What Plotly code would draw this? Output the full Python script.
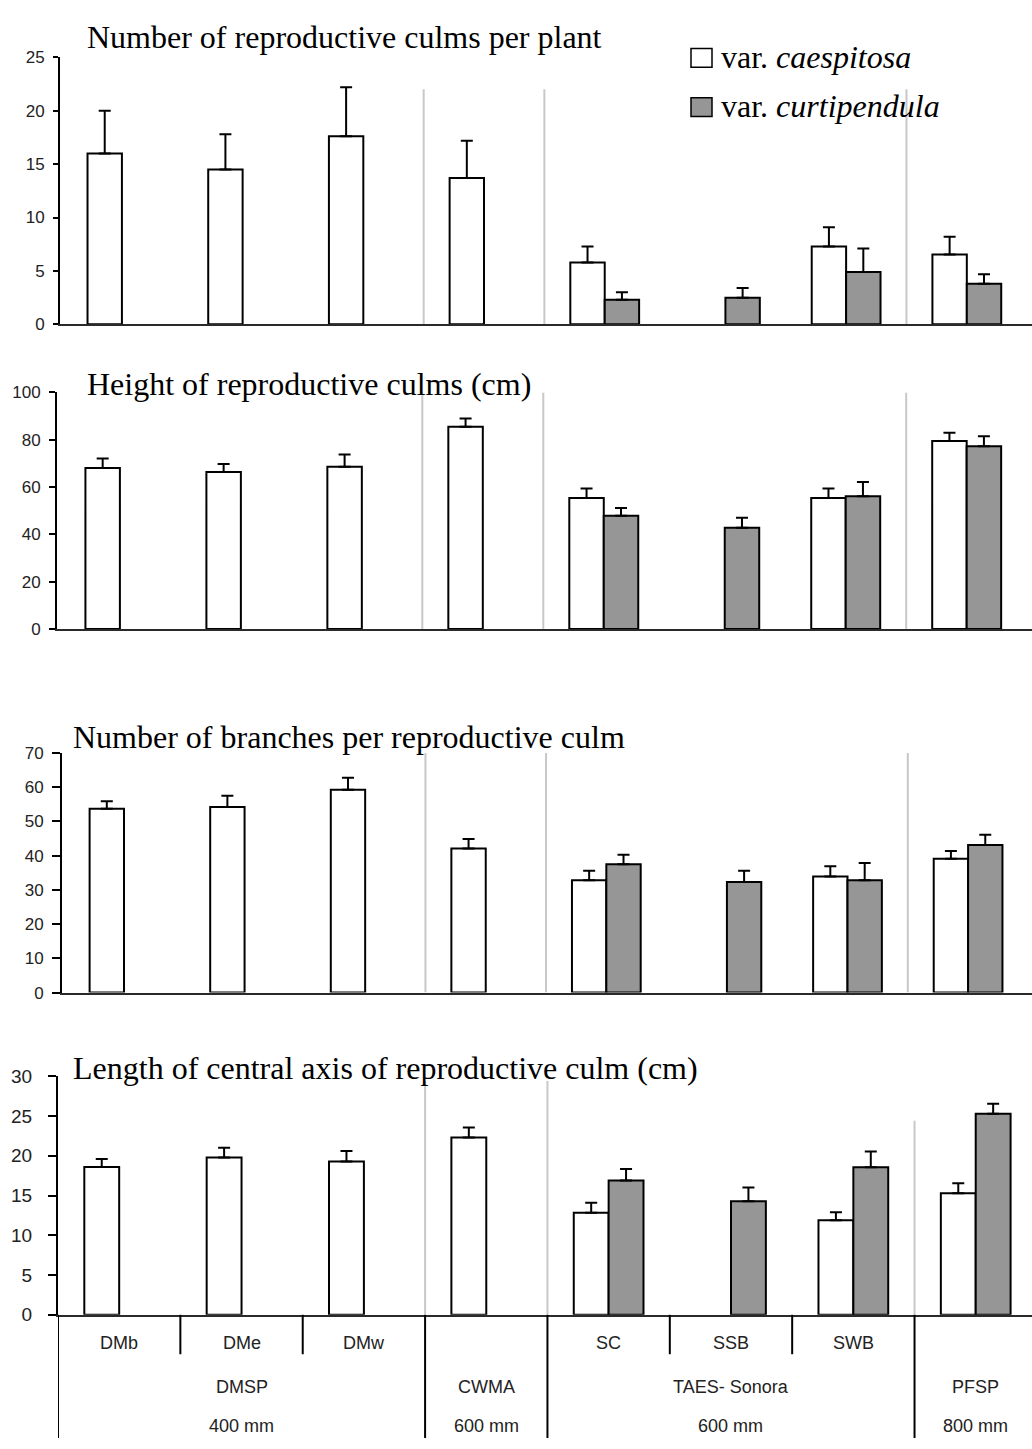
import plotly.graph_objects as go

# ---------------- data ----------------
sites = ["DMb", "DMe", "DMw", "CWMA", "SC", "SSB", "SWB", "PFSP"]
sub_labels = ["DMb", "DMe", "DMw", "", "SC", "SSB", "SWB", ""]
groups = ["DMSP", "CWMA", "TAES- Sonora", "PFSP"]
group_pos = [1, 3, 5, 7]
rain = ["400 mm", "600 mm", "600 mm", "800 mm"]
series_names = ["var. caespitosa", "var. curtipendula"]

culms_caes = [16.0, 14.5, 17.6, 13.7, 5.8, None, 7.3, 6.55]
culms_caes_err = [4.0, 3.3, 4.6, 3.5, 1.5, None, 1.8, 1.65]
culms_curt = [None, None, None, None, 2.3, 2.5, 4.9, 3.8]
culms_curt_err = [None, None, None, None, 0.7, 0.9, 2.2, 0.9]

height_caes = [68.0, 66.3, 68.6, 85.5, 55.3, None, 55.3, 79.4]
height_caes_err = [4.0, 3.4, 5.1, 3.5, 4.1, None, 4.1, 3.5]
height_curt = [None, None, None, None, 47.8, 42.8, 56.1, 77.2]
height_curt_err = [None, None, None, None, 3.3, 4.2, 6.0, 4.2]

branch_caes = [53.7, 54.2, 59.3, 42.1, 32.8, None, 33.9, 39.1]
branch_caes_err = [2.2, 3.3, 3.5, 2.8, 2.8, None, 3.0, 2.3]
branch_curt = [None, None, None, None, 37.5, 32.3, 32.8, 43.1]
branch_curt_err = [None, None, None, None, 2.8, 3.3, 5.1, 3.0]

length_caes = [18.6, 19.8, 19.3, 22.3, 12.85, None, 11.9, 15.3]
length_caes_err = [1.0, 1.2, 1.3, 1.25, 1.25, None, 1.0, 1.25]
length_curt = [None, None, None, None, 16.9, 14.3, 18.55, 25.3]
length_curt_err = [None, None, None, None, 1.45, 1.7, 2.0, 1.25]

titles = [
    "Number of reproductive culms per plant",
    "Height of reproductive culms (cm)",
    "Number of branches per reproductive culm",
    "Length of central axis of reproductive culm (cm)",
]

# ---------------- layout geometry (pixels) ----------------
W, H = 1032, 1449
def px(x):
    return x / W
def py(y):
    return 1 - y / H

panels = [
    dict(caes=culms_caes, caes_err=culms_caes_err, curt=culms_curt, curt_err=culms_curt_err,
         ymax=25, dtick=5, top=48, bottom=319, axis_x=60, xr=[-0.513, 7.54],
         title_x=85, title_y=27, tfont=17, tick_len=5, standoff=5, sep_top=[22, 22, 22]),
    dict(caes=height_caes, caes_err=height_caes_err, curt=height_curt, curt_err=height_curt_err,
         ymax=100, dtick=20, top=388, bottom=628, axis_x=57, xr=[-0.52, 7.54],
         title_x=85, title_y=380, tfont=17, tick_len=6, standoff=5, sep_top=[100, 100, 100]),
    dict(caes=branch_caes, caes_err=branch_caes_err, curt=branch_curt, curt_err=branch_curt_err,
         ymax=70, dtick=10, top=754, bottom=997, axis_x=62, xr=[-0.514, 7.53],
         title_x=71, title_y=738, tfont=17, tick_len=8, standoff=5, sep_top=[70, 70, 70]),
    dict(caes=length_caes, caes_err=length_caes_err, curt=length_curt, curt_err=length_curt_err,
         ymax=30, dtick=5, top=1082, bottom=1324, axis_x=58, xr=[-0.5, 7.46],
         title_x=71, title_y=1074, tfont=19, tick_len=8, standoff=12, sep_top=[29.4, 29.4, 24.4]),
]

WHITE = "#ffffff"
GRAY = "#969696"
SERIF = "Liberation Serif, Times New Roman, serif"
SANS = "Liberation Sans, Arial, sans-serif"

fig = go.Figure()
shapes = []
annotations = []

for i, p in enumerate(panels, start=1):
    xa = "x" if i == 1 else f"x{i}"
    ya = "y" if i == 1 else f"y{i}"
    for vals, errs, color, name in [
        (p["caes"], p["caes_err"], WHITE, series_names[0]),
        (p["curt"], p["curt_err"], GRAY, series_names[1]),
    ]:
        fig.add_trace(go.Bar(
            x=sites, y=vals, name=name, xaxis=xa, yaxis=ya,
            marker=dict(color=color, line=dict(color="black", width=2)),
            error_y=dict(type="data", array=errs, arrayminus=[0] * len(sites),
                         symmetric=False, color="black", thickness=2, width=6),
            showlegend=False,
        ))
    kx = "xaxis" if i == 1 else f"xaxis{i}"
    ky = "yaxis" if i == 1 else f"yaxis{i}"
    fig.layout[kx] = dict(
        domain=[px(p["axis_x"]), 1], range=p["xr"], anchor=ya, type="category",
        showline=True, linecolor="#2a2a2a", linewidth=2, ticks="", showticklabels=False,
        showgrid=False, zeroline=False,
    )
    fig.layout[ky] = dict(
        domain=[py(p["bottom"]), py(p["top"])], range=[0, p["ymax"]], anchor=xa,
        dtick=p["dtick"], tick0=0, ticks="outside", ticklen=p["tick_len"], tickwidth=1.5,
        tickcolor="black", showline=True, linecolor="black", linewidth=2,
        showgrid=False, zeroline=False,
        tickfont=dict(family=SANS, size=p["tfont"], color="#222"),
        ticklabelstandoff=p["standoff"],
    )
    # light gray separators between site groups
    for xb, yt in zip([2.5, 3.5, 6.5], p["sep_top"]):
        shapes.append(dict(type="line", xref=xa, yref=ya, x0=xb, x1=xb, y0=0, y1=yt,
                           line=dict(color="#c8c8c8", width=2), layer="below"))
    annotations.append(dict(text=titles[i - 1], xref="paper", yref="paper",
                            x=px(p["title_x"]), y=py(p["title_y"]), xanchor="left",
                            yanchor="middle", showarrow=False,
                            font=dict(family=SERIF, size=32, color="black")))

# ---------------- category table under the last panel ----------------
row_top, row_sub, row_bottom = 1324, 1364, 1449
shapes.append(dict(type="line", xref="x4", yref="paper", x0=-0.5, x1=-0.5,
                   y0=py(row_bottom), y1=py(row_top), line=dict(color="black", width=2)))
for xb in [0.5, 1.5, 4.5, 5.5]:
    shapes.append(dict(type="line", xref="x4", yref="paper", x0=xb, x1=xb,
                       y0=py(row_sub), y1=py(row_top), line=dict(color="black", width=2)))
for xb in [2.5, 3.5, 6.5]:
    shapes.append(dict(type="line", xref="x4", yref="paper", x0=xb, x1=xb,
                       y0=py(row_bottom), y1=py(row_top), line=dict(color="black", width=2)))

TFONT = dict(family=SANS, size=18, color="#222")
for k, lab in enumerate(sub_labels):
    if lab:
        annotations.append(dict(text=lab, xref="x4", yref="paper", x=k, y=py(1353),
                                xanchor="center", yanchor="middle", showarrow=False,
                                font=TFONT))
for g, gp, r in zip(groups, group_pos, rain):
    annotations.append(dict(text=g, xref="x4", yref="paper", x=gp, y=py(1397),
                            xanchor="center", yanchor="middle", showarrow=False,
                            font=TFONT))
    annotations.append(dict(text=r, xref="x4", yref="paper", x=gp, y=py(1437),
                            xanchor="center", yanchor="middle", showarrow=False,
                            font=TFONT))

# ---------------- legend (drawn) ----------------
for (y0, y1), fill, name in [((39, 58), WHITE, series_names[0]), ((89, 108), GRAY, series_names[1])]:
    shapes.append(dict(type="rect", xref="paper", yref="paper", x0=px(691), x1=px(712),
                       y0=py(y1), y1=py(y0), fillcolor=fill, line=dict(color="black", width=1.5)))
    pre, var = name.split(" ", 1)
    annotations.append(dict(text=f"{pre} <i>{var}</i>", xref="paper", yref="paper",
                            x=px(719), y=py((y0 + y1) / 2 - 1), xanchor="left", yanchor="middle",
                            showarrow=False, font=dict(family=SERIF, size=32, color="black")))

fig.update_layout(
    width=W, height=H, margin=dict(l=0, r=0, t=0, b=0),
    paper_bgcolor="white", plot_bgcolor="white",
    barmode="group", bargap=0.43, bargroupgap=0,
    showlegend=False, shapes=shapes, annotations=annotations,
)

fig.write_html("out.html")
